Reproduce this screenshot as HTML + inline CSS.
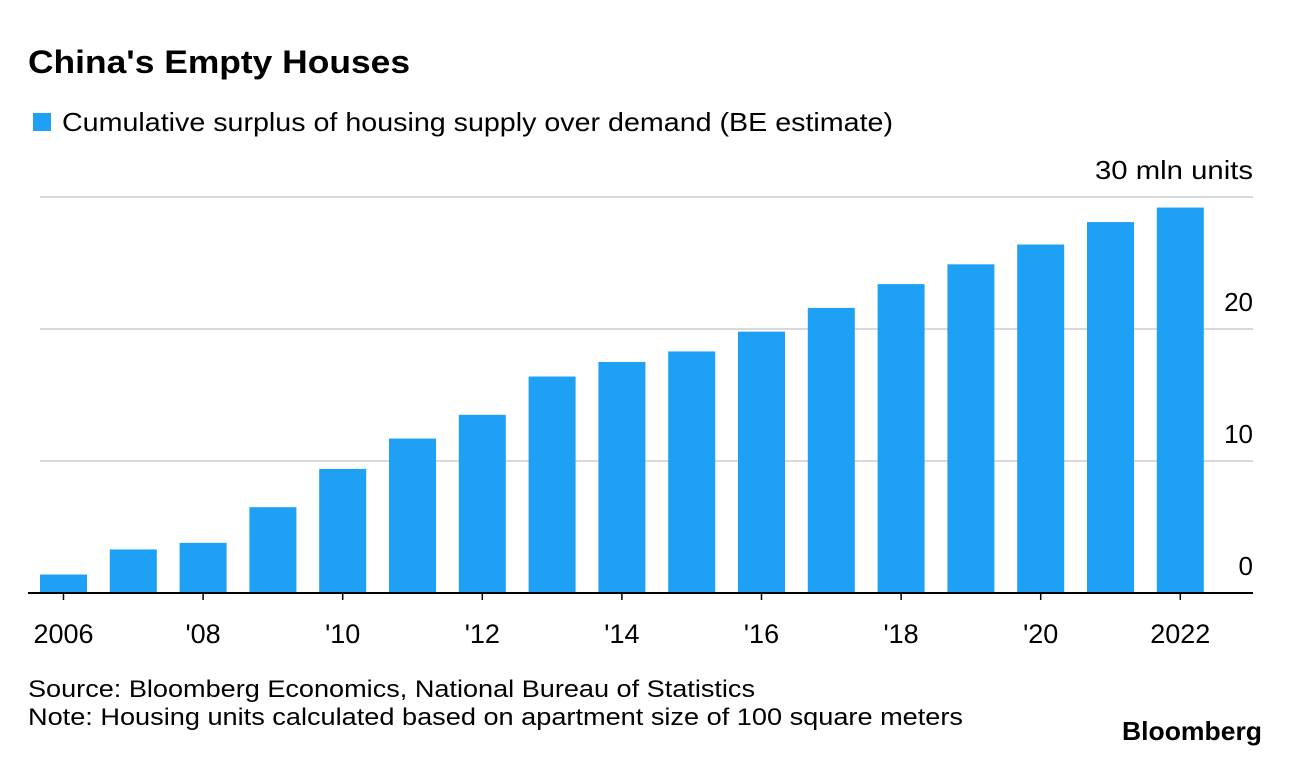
<!DOCTYPE html>
<html><head><meta charset="utf-8"><style>
body{margin:0;background:#fff;font-family:"Liberation Sans",sans-serif;}
svg text{font-family:"Liberation Sans",sans-serif;}
</style></head><body>
<svg width="1289" height="756">
<text x="28" y="73" font-size="32" font-weight="bold" fill="#000" textLength="382" lengthAdjust="spacingAndGlyphs">China's Empty Houses</text>
<rect x="33" y="113" width="18" height="18" fill="#1ea0f5"/>
<text x="62" y="131" font-size="26" fill="#000" textLength="831" lengthAdjust="spacingAndGlyphs">Cumulative surplus of housing supply over demand (BE estimate)</text>
<g id="grid"></g><g id="bars"></g><g id="xlabels"></g>
<text x="28" y="697" font-size="24" fill="#000" textLength="727" lengthAdjust="spacingAndGlyphs">Source: Bloomberg Economics, National Bureau of Statistics</text>
<text x="28" y="725" font-size="24" fill="#000" textLength="935" lengthAdjust="spacingAndGlyphs">Note: Housing units calculated based on apartment size of 100 square meters</text>
<text x="1122" y="740" font-size="26" font-weight="bold" fill="#000" textLength="140" lengthAdjust="spacingAndGlyphs">Bloomberg</text>
</svg>
<script>
const years=[2006,2007,2008,2009,2010,2011,2012,2013,2014,2015,2016,2017,2018,2019,2020,2021,2022];
const values=[1.4,3.3,3.8,6.5,9.4,11.7,13.5,16.4,17.5,18.3,19.8,21.6,23.4,24.9,26.4,28.1,29.2];
const yTicks=[0,10,20,30];
const yTickLabels=["0","10","20","30 mln units"];
const xLabelYears=[2006,2008,2010,2012,2014,2016,2018,2020,2022];
const xLabelText=["2006","'08","'10","'12","'14","'16","'18","'20","2022"];
const NS="http://www.w3.org/2000/svg";
const y=v=>593-v*13.2;
const x=yr=>63.5+(yr-2006)*69.8;
function mk(tag,attrs,parent){const e=document.createElementNS(NS,tag);for(const k in attrs)e.setAttribute(k,attrs[k]);document.getElementById(parent).appendChild(e);return e;}
yTicks.forEach((t,i)=>{
 if(t>0){const l=mk('line',{x1:40,x2:1253,y1:y(t),y2:y(t),stroke:'#d9d9d9','stroke-width':2},'grid');
 
 }
 const tx=mk('text',{x:1253,y:y(t)-18,'font-size':26,'text-anchor':'end',fill:'#000'},'grid');
 if(i===3){tx.setAttribute('textLength',158);tx.setAttribute('lengthAdjust','spacingAndGlyphs');}
 tx.textContent=yTickLabels[i];
 
 
});
years.forEach((yr,i)=>{
 const r=mk('rect',{x:x(yr)-23.5,y:y(values[i]),width:47,height:593-y(values[i]),fill:'#1ea0f5'},'bars');
 
 
});
const base=mk('line',{x1:28,x2:1253,y1:593,y2:593,stroke:'#000','stroke-width':2},'bars');


xLabelYears.forEach((yr,i)=>{
 const tk=mk('line',{x1:x(yr),x2:x(yr),y1:593,y2:600,stroke:'#000','stroke-width':1.5},'xlabels');
 
 
 const t=mk('text',{x:x(yr),y:643,'font-size':27,'text-anchor':'middle',fill:'#000'},'xlabels');
 t.textContent=xLabelText[i];
 
 
});
</script>
</body></html>
